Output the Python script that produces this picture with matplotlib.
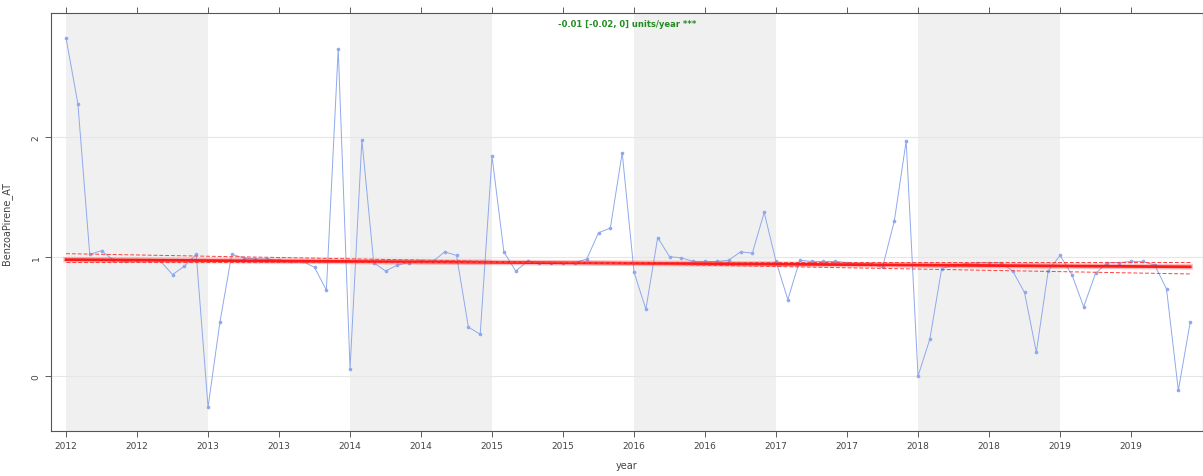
import matplotlib.pyplot as plt

# ---- Data (monthly means, Jan 2012 .. Dec 2019) ----
years = [2012, 2013, 2014, 2015, 2016, 2017, 2018, 2019]
values = [
    # 2012
    2.83, 2.28, 1.02, 1.05, 0.97, 0.96, 0.97, 0.97, 0.96, 0.85, 0.92, 1.02,
    # 2013
    -0.26, 0.45, 1.02, 0.99, 0.98, 0.98, 0.97, 0.96, 0.96, 0.91, 0.72, 2.74,
    # 2014
    0.06, 1.98, 0.95, 0.88, 0.93, 0.95, 0.96, 0.96, 1.04, 1.01, 0.41, 0.35,
    # 2015
    1.84, 1.04, 0.88, 0.96, 0.95, 0.95, 0.95, 0.95, 0.98, 1.20, 1.24, 1.87,
    # 2016
    0.87, 0.56, 1.16, 1.00, 0.99, 0.96, 0.96, 0.96, 0.97, 1.04, 1.03, 1.37,
    # 2017
    0.96, 0.64, 0.97, 0.96, 0.96, 0.96, 0.95, 0.94, 0.94, 0.91, 1.30, 1.97,
    # 2018
    0.00, 0.31, 0.90, 0.93, 0.94, 0.95, 0.95, 0.95, 0.88, 0.70, 0.20, 0.88,
    # 2019
    1.01, 0.85, 0.58, 0.86, 0.95, 0.95, 0.96, 0.96, 0.93, 0.73, -0.12, 0.45,
]
dates = [years[0] + i / 12 for i in range(len(values))]

# Theil-Sen trend and its confidence slopes (value at first / last date)
trend = [0.975, 0.915]
trend_lower = [1.025, 0.855]
trend_upper = [0.958, 0.958]
trend_label = "-0.01 [-0.02, 0] units/year ***"

xtick_pos = [2012 + 0.5 * k for k in range(16)]
xtick_labels = [str(int(t)) for t in xtick_pos]

# ---- Plot ----
fig = plt.figure(figsize=(12.03, 4.77), dpi=100)
ax = fig.add_axes([0.0424, 0.0943, 0.9576, 0.8763])

# alternate year shading
for y in years[::2]:
    ax.axvspan(y, y + 1, color='#f0f0f0', lw=0, zorder=0)

for yv in [0, 1, 2]:
    ax.axhline(yv, color='#e6e6e6', lw=0.8, zorder=1)

ax.plot(dates, values, color='#8fa9ec', lw=0.7, marker='o', ms=1.6,
        mfc='#8fa9ec', mec='#8fa9ec', zorder=3)

ends = [dates[0], dates[-1]]
ax.plot(ends, trend, color='red', lw=4, alpha=0.25, zorder=4)
ax.plot(ends, trend, color='#ff1a1a', lw=2, zorder=4)
ax.plot(ends, trend_lower, color='#ff4040', lw=0.7, ls=(0, (4, 2)), zorder=4)
ax.plot(ends, trend_upper, color='#ff4040', lw=0.7, ls=(0, (4, 2)), zorder=4)

ax.text(0.5, 0.985, trend_label, transform=ax.transAxes, ha='center', va='top',
        color='#228b22', fontsize=6, fontweight='bold')

ax.set_xlim(2011.894, 2020.007)
ax.set_ylim(-0.46, 3.04)
ax.set_xticks(xtick_pos)
ax.set_xticklabels(xtick_labels, fontsize=6.5, color='#444444')
ax.set_yticks([0, 1, 2])
ax.set_yticklabels(['0', '1', '2'], fontsize=6.5, rotation=90, va='center', color='#444444')
ax.tick_params(axis='x', top=True, length=4, width=0.6, colors='#444444')
ax.tick_params(axis='y', length=4, width=0.6, colors='#444444')
for s in ax.spines.values():
    s.set_color('#555555')
    s.set_linewidth(0.8)

ax.set_xlabel('year', fontsize=7, color='#444444', labelpad=7)
ax.set_ylabel('BenzoaPirene_AT', fontsize=7, color='#444444', labelpad=14)

fig.savefig('out.png', dpi=100)
plt.close()
